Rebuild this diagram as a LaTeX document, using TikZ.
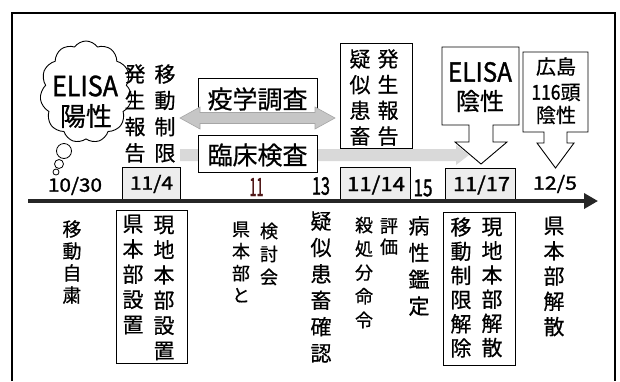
\documentclass[tikz,border=0pt]{standalone}
\usepackage{fontspec}
\setmainfont{Noto Sans CJK JP}[FakeBold=0.6]
\newfontfamily\numfont{Noto Sans CJK JP}[FakeBold=1.4]
\usetikzlibrary{arrows.meta,shapes.symbols,patterns}
\newcommand{\fitt}[3]{\resizebox*{#1pt}{#2pt}{\numfont #3}}
\definecolor{darkred}{RGB}{80,25,25}
\begin{document}
\begin{tikzpicture}[x=1pt,y=-1pt,
  every node/.style={inner sep=0pt},
  vc/.style 2 args={align=center,font=\fontsize{#1}{#2}\selectfont},
  box/.style={draw,line width=0.9pt,fill=white},
  datebox/.style={draw,line width=0.9pt,fill=gray!14},
  dotband/.style={fill=gray!30},
  dotarrow/.style={fill=gray!45,draw=gray!70,line width=0.6pt},
  callout/.style={draw,line width=0.9pt,fill=white},
]
\fill[white] (0,0) rectangle (620,381);
\useasboundingbox (0,0) rectangle (620,381);
% frame
\draw[line width=1.3pt] (12,381) -- (12,13) -- (615,13) -- (615,381);

% cloud
\node[cloud,draw,line width=0.9pt,cloud puffs=11,cloud puff arc=110,aspect=0.92,
      minimum width=92pt,minimum height=102pt] (cloud) at (86,92) {};
\node[draw,circle,line width=0.8pt,minimum size=15pt] (bub1) at (64,151) {};
\node[draw,circle,line width=0.8pt,minimum size=9pt] (bub2) at (59,164) {};
\node[draw,circle,line width=0.8pt,minimum size=6pt] (bub3) at (56,172) {};
\node (elisa1) at (85,86) {\fitt{66}{21}{ELISA}};
\node[font=\fontsize{26}{26}\selectfont] (yosei1) at (86,116) {陽性};

% upper vertical columns
\node[vc={21}{26.3}] (hassei1) at (135,113.5) {発\\生\\報\\告};
\node[vc={21}{26.3}] (idoseigen) at (165,113.5) {移\\動\\制\\限};

% band (clinical exam)
\path[dotband] (180,149) -- (456,149) -- (456,145) -- (469,155) -- (456,165) -- (456,161) -- (180,161) -- cycle;
% epidemiological survey box and double arrow
\node[box,minimum width=119pt,minimum height=40pt] (ekigakubox) at (257.5,98) {};
\node[font=\fontsize{25}{25}\selectfont] (ekigaku) at (257.5,99) {疫学調査};
\path[dotarrow] (180,118) -- (200,107) -- (200,112.5) -- (315,112.5) -- (315,107) -- (335,118) -- (315,129) -- (315,123.5) -- (200,123.5) -- (200,129) -- cycle;
\node[box,minimum width=119pt,minimum height=37pt] (rinshoubox) at (257.5,153.5) {};
\node[font=\fontsize{25}{25}\selectfont] (rinshou) at (257.5,155) {臨床検査};

% suspected case box
\node[box,minimum width=72pt,minimum height=105pt] (giji) at (376,95.5) {};
\node[vc={21}{25.7}] (gijicol) at (360,97.5) {疑\\似\\患\\畜};
\node[vc={21}{25.7}] (hassei2) at (388,97.5) {発\\生\\報\\告};

% callout ELISA negative
\path[callout] (442,47) -- (519,47) -- (519,125) -- (493,125) -- (493,142) -- (507,142) -- (481,164) -- (455,142) -- (469,142) -- (469,125) -- (442,125) -- cycle;
\node (elisa2) at (480,72) {\fitt{64}{20}{ELISA}};
\node[font=\fontsize{24}{24}\selectfont] (insei1) at (480,101) {陰性};

% callout Hiroshima
\path[callout] (523,52) -- (588,52) -- (588,132) -- (567,132) -- (567,143) -- (574,143) -- (555.5,168) -- (537,143) -- (544,143) -- (544,132) -- (523,132) -- cycle;
\node[font=\fontsize{20}{20}\selectfont] (hiroshima) at (556,66.5) {広島};
\node[font=\fontsize{20}{20}\selectfont] (tou) at (556,92.5) {\fitt{29}{15}{116}頭};
\node[font=\fontsize{20}{20}\selectfont] (insei2) at (556,115) {陰性};

% date boxes
\node[datebox,minimum width=58pt,minimum height=33pt] (b114) at (151,183.5) {};
\node[datebox,minimum width=70pt,minimum height=34pt] (b1114) at (375,184.5) {};
\node[datebox,minimum width=70pt,minimum height=34pt] (b1117) at (480,185) {};

% dates
\node (d1030) at (75,186) {\fitt{54}{18}{10/30}};
\node (d114) at (151.5,184) {\fitt{43}{18}{11/4}};
\node[text=darkred] (d11) at (256.5,187) {\fitt{14}{18}{11}};
\node (d13) at (321,186) {\fitt{18}{18}{13}};
\node (d1114) at (376,185) {\fitt{58}{19}{11/14}};
\node (d15) at (423,188) {\fitt{19}{17}{15}};
\node (d1117) at (481.5,185) {\fitt{57}{19}{11/17}};
\node (d125) at (555,184) {\fitt{44}{18}{12/5}};

% timeline
\coordinate (tl0) at (28,201);
\coordinate (tl1) at (598,201);
\draw[line width=4pt,black!85,-{Triangle[length=14pt,width=15pt]}] (tl0) -- (tl1);

% lower columns
\node[vc={19}{22}] (jishuku) at (72,262) {移\\動\\自\\粛};
\node[box,minimum width=71pt,minimum height=153pt] (boxA) at (151.5,286.5) {};
\node[vc={21}{25.25}] (kensecchi) at (133,274.5) {県\\本\\部\\設\\置};
\node[vc={21}{25.2}] (gensecchi) at (164,288) {現\\地\\本\\部\\設\\置};
\node[vc={18}{22}] (kento) at (241,262) {県\\本\\部\\と};
\node[vc={18}{23}] (kentokai) at (269,254) {検\\討\\会};
\node[vc={21}{26.4}] (kakunin) at (321,287) {疑\\似\\患\\畜\\確\\認};
\node[vc={18}{23.75}] (satsu) at (364,272.5) {殺\\処\\分\\命\\令};
\node[vc={18}{21}] (hyouka) at (389,236.5) {評\\価};
\node[vc={21}{26.7}] (kantei) at (419,266) {病\\性\\鑑\\定};
\node[box,minimum width=72pt,minimum height=153pt] (boxB) at (479,288.5) {};
\node[vc={21}{24.2}] (kaijo) at (461,287.5) {移\\動\\制\\限\\解\\除};
\node[vc={21}{24.2}] (genkaisan) at (492,287.5) {現\\地\\本\\部\\解\\散};
\node[vc={21}{25.25}] (kenkaisan) at (554,276.5) {県\\本\\部\\解\\散};
\end{tikzpicture}
\end{document}
